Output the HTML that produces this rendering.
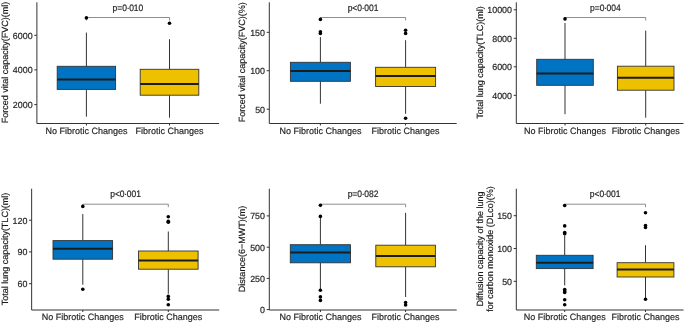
<!DOCTYPE html>
<html><head><meta charset="utf-8"><style>
html,body{margin:0;padding:0;background:#fff;}
body{width:685px;height:324px;overflow:hidden;}
svg{display:block;filter:blur(0.3px);}
text{font-family:"Liberation Sans",sans-serif;text-rendering:geometricPrecision;stroke-width:0.18px;}
.tk{font-size:8.9px;fill:#262626;stroke:#262626;}
.xl{font-size:9px;fill:#262626;stroke:#262626;}
.pv{font-size:8.5px;fill:#262626;stroke:#262626;}
.tt{font-size:9px;fill:#1a1a1a;stroke:#1a1a1a;}
</style></head><body>
<svg width="685" height="324" viewBox="0 0 685 324">
<rect width="685" height="324" fill="#fff"/>
<path d="M86.4 20.50 V17.5 H169.5 V20.50" fill="none" stroke="#7a7a7a" stroke-width="0.85"/>
<text transform="translate(127.95 10.85) scale(1 1.1)" text-anchor="middle" class="pv">p=0<tspan dx="-0.35">·</tspan><tspan dx="-0.35">010</tspan></text>
<line x1="86.4" y1="32.6" x2="86.4" y2="66.3" stroke="#333333" stroke-width="1.0"/>
<line x1="86.4" y1="89.4" x2="86.4" y2="116.7" stroke="#333333" stroke-width="1.0"/>
<rect x="57.20" y="66.3" width="58.40" height="23.10" fill="#0073C2" stroke="#333333" stroke-width="0.9"/>
<line x1="57.20" y1="79.4" x2="115.60" y2="79.4" stroke="#1c1c1c" stroke-width="2.0"/>
<circle cx="86.4" cy="17.9" r="1.8" fill="#000"/>
<line x1="169.5" y1="39.2" x2="169.5" y2="69.3" stroke="#333333" stroke-width="1.0"/>
<line x1="169.5" y1="95.2" x2="169.5" y2="117.7" stroke="#333333" stroke-width="1.0"/>
<rect x="140.20" y="69.3" width="58.60" height="25.90" fill="#EDC000" stroke="#333333" stroke-width="0.9"/>
<line x1="140.20" y1="84.0" x2="198.80" y2="84.0" stroke="#1c1c1c" stroke-width="2.0"/>
<circle cx="169.5" cy="23.3" r="1.8" fill="#000"/>
<path d="M36.9 2.3 V123.5 H219.1" fill="none" stroke="#333333" stroke-width="1.0" stroke-linejoin="round"/>
<line x1="34.30" y1="35.3" x2="36.9" y2="35.3" stroke="#333333" stroke-width="1.0"/>
<text transform="translate(32.60 38.65) scale(1 1.0)" text-anchor="end" class="tk">6000</text>
<line x1="34.30" y1="69.9" x2="36.9" y2="69.9" stroke="#333333" stroke-width="1.0"/>
<text transform="translate(32.60 73.25) scale(1 1.0)" text-anchor="end" class="tk">4000</text>
<line x1="34.30" y1="104.6" x2="36.9" y2="104.6" stroke="#333333" stroke-width="1.0"/>
<text transform="translate(32.60 107.95) scale(1 1.0)" text-anchor="end" class="tk">2000</text>
<line x1="86.4" y1="123.5" x2="86.4" y2="125.50" stroke="#333333" stroke-width="1.0"/>
<text transform="translate(86.4 133.55) scale(1 1.02)" text-anchor="middle" class="xl">No Fibrotic Changes</text>
<line x1="169.5" y1="123.5" x2="169.5" y2="125.50" stroke="#333333" stroke-width="1.0"/>
<text transform="translate(169.5 133.55) scale(1 1.02)" text-anchor="middle" class="xl">Fibrotic Changes</text>
<text transform="translate(7.9 62.6) rotate(-90)" text-anchor="middle" class="tt">Forced vital capacity(FVC)(ml)</text>
<path d="M320.4 20.50 V17.5 H405.6 V20.50" fill="none" stroke="#7a7a7a" stroke-width="0.85"/>
<text transform="translate(363.00 10.85) scale(1 1.1)" text-anchor="middle" class="pv">p&lt;0<tspan dx="-0.35">·</tspan><tspan dx="-0.35">001</tspan></text>
<line x1="320.4" y1="37.1" x2="320.4" y2="62.3" stroke="#333333" stroke-width="1.0"/>
<line x1="320.4" y1="81.3" x2="320.4" y2="103.7" stroke="#333333" stroke-width="1.0"/>
<rect x="290.40" y="62.3" width="60.00" height="19.00" fill="#0073C2" stroke="#333333" stroke-width="0.9"/>
<line x1="290.40" y1="70.9" x2="350.40" y2="70.9" stroke="#1c1c1c" stroke-width="2.0"/>
<circle cx="320.4" cy="19.4" r="1.8" fill="#000"/>
<circle cx="320.4" cy="31.8" r="1.8" fill="#000"/>
<circle cx="320.4" cy="33.5" r="1.8" fill="#000"/>
<line x1="405.6" y1="40.2" x2="405.6" y2="67.3" stroke="#333333" stroke-width="1.0"/>
<line x1="405.6" y1="86.5" x2="405.6" y2="113.8" stroke="#333333" stroke-width="1.0"/>
<rect x="375.60" y="67.3" width="60.00" height="19.20" fill="#EDC000" stroke="#333333" stroke-width="0.9"/>
<line x1="375.60" y1="75.9" x2="435.60" y2="75.9" stroke="#1c1c1c" stroke-width="2.0"/>
<circle cx="405.6" cy="30.3" r="1.8" fill="#000"/>
<circle cx="405.6" cy="33.4" r="1.8" fill="#000"/>
<circle cx="405.6" cy="118.3" r="1.8" fill="#000"/>
<path d="M269.3 2.3 V123.5 H456.7" fill="none" stroke="#333333" stroke-width="1.0" stroke-linejoin="round"/>
<line x1="266.70" y1="32.3" x2="269.3" y2="32.3" stroke="#333333" stroke-width="1.0"/>
<text transform="translate(265.00 35.65) scale(1 1.0)" text-anchor="end" class="tk">150</text>
<line x1="266.70" y1="70.7" x2="269.3" y2="70.7" stroke="#333333" stroke-width="1.0"/>
<text transform="translate(265.00 74.05) scale(1 1.0)" text-anchor="end" class="tk">100</text>
<line x1="266.70" y1="109.2" x2="269.3" y2="109.2" stroke="#333333" stroke-width="1.0"/>
<text transform="translate(265.00 112.55) scale(1 1.0)" text-anchor="end" class="tk">50</text>
<line x1="320.4" y1="123.5" x2="320.4" y2="125.50" stroke="#333333" stroke-width="1.0"/>
<text transform="translate(320.4 133.55) scale(1 1.02)" text-anchor="middle" class="xl">No Fibrotic Changes</text>
<line x1="405.6" y1="123.5" x2="405.6" y2="125.50" stroke="#333333" stroke-width="1.0"/>
<text transform="translate(405.6 133.55) scale(1 1.02)" text-anchor="middle" class="xl">Fibrotic Changes</text>
<text transform="translate(245.2 62.3) rotate(-90)" text-anchor="middle" class="tt">Forced vital capacity(FVC)(%)</text>
<path d="M565.0 20.50 V17.5 H645.7 V20.50" fill="none" stroke="#7a7a7a" stroke-width="0.85"/>
<text transform="translate(605.35 10.85) scale(1 1.1)" text-anchor="middle" class="pv">p=0<tspan dx="-0.35">·</tspan><tspan dx="-0.35">004</tspan></text>
<line x1="565.0" y1="23.0" x2="565.0" y2="59.3" stroke="#333333" stroke-width="1.0"/>
<line x1="565.0" y1="85.3" x2="565.0" y2="114.2" stroke="#333333" stroke-width="1.0"/>
<rect x="536.70" y="59.3" width="56.60" height="26.00" fill="#0073C2" stroke="#333333" stroke-width="0.9"/>
<line x1="536.70" y1="73.5" x2="593.30" y2="73.5" stroke="#1c1c1c" stroke-width="2.0"/>
<circle cx="565.0" cy="18.9" r="1.8" fill="#000"/>
<line x1="645.7" y1="30.6" x2="645.7" y2="66.2" stroke="#333333" stroke-width="1.0"/>
<line x1="645.7" y1="90.2" x2="645.7" y2="117.7" stroke="#333333" stroke-width="1.0"/>
<rect x="617.40" y="66.2" width="56.60" height="24.00" fill="#EDC000" stroke="#333333" stroke-width="0.9"/>
<line x1="617.40" y1="77.7" x2="674.00" y2="77.7" stroke="#1c1c1c" stroke-width="2.0"/>
<path d="M516.3 2.3 V123.5 H683.5" fill="none" stroke="#333333" stroke-width="1.0" stroke-linejoin="round"/>
<line x1="513.70" y1="9.8" x2="516.3" y2="9.8" stroke="#333333" stroke-width="1.0"/>
<text transform="translate(512.00 13.15) scale(1 1.0)" text-anchor="end" class="tk">10000</text>
<line x1="513.70" y1="38.3" x2="516.3" y2="38.3" stroke="#333333" stroke-width="1.0"/>
<text transform="translate(512.00 41.65) scale(1 1.0)" text-anchor="end" class="tk">8000</text>
<line x1="513.70" y1="66.8" x2="516.3" y2="66.8" stroke="#333333" stroke-width="1.0"/>
<text transform="translate(512.00 70.15) scale(1 1.0)" text-anchor="end" class="tk">6000</text>
<line x1="513.70" y1="95.3" x2="516.3" y2="95.3" stroke="#333333" stroke-width="1.0"/>
<text transform="translate(512.00 98.65) scale(1 1.0)" text-anchor="end" class="tk">4000</text>
<line x1="565.0" y1="123.5" x2="565.0" y2="125.50" stroke="#333333" stroke-width="1.0"/>
<text transform="translate(565.0 133.55) scale(1 1.02)" text-anchor="middle" class="xl">No Fibrotic Changes</text>
<line x1="645.7" y1="123.5" x2="645.7" y2="125.50" stroke="#333333" stroke-width="1.0"/>
<text transform="translate(645.7 133.55) scale(1 1.02)" text-anchor="middle" class="xl">Fibrotic Changes</text>
<text transform="translate(482.9 62.5) rotate(-90)" text-anchor="middle" class="tt">Total lung capacity(TLC)(ml)</text>
<path d="M82.8 207.20 V204.2 H168.3 V207.20" fill="none" stroke="#7a7a7a" stroke-width="0.85"/>
<text transform="translate(125.55 197.0) scale(1 1.1)" text-anchor="middle" class="pv">p&lt;0<tspan dx="-0.35">·</tspan><tspan dx="-0.35">001</tspan></text>
<line x1="82.8" y1="214.1" x2="82.8" y2="240.6" stroke="#333333" stroke-width="1.0"/>
<line x1="82.8" y1="259.2" x2="82.8" y2="284.7" stroke="#333333" stroke-width="1.0"/>
<rect x="53.00" y="240.6" width="59.60" height="18.60" fill="#0073C2" stroke="#333333" stroke-width="0.9"/>
<line x1="53.00" y1="248.8" x2="112.60" y2="248.8" stroke="#1c1c1c" stroke-width="2.0"/>
<circle cx="82.8" cy="206.4" r="1.8" fill="#000"/>
<circle cx="82.8" cy="289.2" r="1.8" fill="#000"/>
<line x1="168.3" y1="231.5" x2="168.3" y2="251.0" stroke="#333333" stroke-width="1.0"/>
<line x1="168.3" y1="269.2" x2="168.3" y2="293.8" stroke="#333333" stroke-width="1.0"/>
<rect x="138.50" y="251.0" width="59.60" height="18.20" fill="#EDC000" stroke="#333333" stroke-width="0.9"/>
<line x1="138.50" y1="260.6" x2="198.10" y2="260.6" stroke="#1c1c1c" stroke-width="2.0"/>
<circle cx="168.3" cy="216.7" r="1.8" fill="#000"/>
<circle cx="168.3" cy="221.3" r="1.8" fill="#000"/>
<circle cx="168.3" cy="222.3" r="1.8" fill="#000"/>
<circle cx="168.3" cy="296.4" r="1.8" fill="#000"/>
<circle cx="168.3" cy="299.2" r="1.8" fill="#000"/>
<circle cx="168.3" cy="304.7" r="1.8" fill="#000"/>
<path d="M31.65 188.7 V310.0 H219.2" fill="none" stroke="#333333" stroke-width="1.0" stroke-linejoin="round"/>
<line x1="29.05" y1="220.2" x2="31.65" y2="220.2" stroke="#333333" stroke-width="1.0"/>
<text transform="translate(27.35 223.55) scale(1 1.0)" text-anchor="end" class="tk">120</text>
<line x1="29.05" y1="251.9" x2="31.65" y2="251.9" stroke="#333333" stroke-width="1.0"/>
<text transform="translate(27.35 255.25) scale(1 1.0)" text-anchor="end" class="tk">90</text>
<line x1="29.05" y1="283.7" x2="31.65" y2="283.7" stroke="#333333" stroke-width="1.0"/>
<text transform="translate(27.35 287.05) scale(1 1.0)" text-anchor="end" class="tk">60</text>
<line x1="82.8" y1="310.0" x2="82.8" y2="312.00" stroke="#333333" stroke-width="1.0"/>
<text transform="translate(82.8 320.4) scale(1 1.02)" text-anchor="middle" class="xl">No Fibrotic Changes</text>
<line x1="168.3" y1="310.0" x2="168.3" y2="312.00" stroke="#333333" stroke-width="1.0"/>
<text transform="translate(168.3 320.4) scale(1 1.02)" text-anchor="middle" class="xl">Fibrotic Changes</text>
<text transform="translate(7.5 248.9) rotate(-90)" text-anchor="middle" class="tt">Total lung capacity(TLC)(ml)</text>
<path d="M320.4 207.20 V204.2 H405.6 V207.20" fill="none" stroke="#7a7a7a" stroke-width="0.85"/>
<text transform="translate(363.00 197.0) scale(1 1.1)" text-anchor="middle" class="pv">p=0<tspan dx="-0.35">·</tspan><tspan dx="-0.35">082</tspan></text>
<line x1="320.4" y1="216.4" x2="320.4" y2="244.7" stroke="#333333" stroke-width="1.0"/>
<line x1="320.4" y1="262.8" x2="320.4" y2="289.9" stroke="#333333" stroke-width="1.0"/>
<rect x="290.30" y="244.7" width="60.20" height="18.10" fill="#0073C2" stroke="#333333" stroke-width="0.9"/>
<line x1="290.30" y1="252.6" x2="350.50" y2="252.6" stroke="#1c1c1c" stroke-width="2.0"/>
<circle cx="320.4" cy="205.2" r="1.8" fill="#000"/>
<circle cx="320.4" cy="216.4" r="1.8" fill="#000"/>
<circle cx="320.4" cy="290.2" r="1.8" fill="#000"/>
<circle cx="320.4" cy="296.9" r="1.8" fill="#000"/>
<circle cx="320.4" cy="300.4" r="1.8" fill="#000"/>
<line x1="405.6" y1="212.9" x2="405.6" y2="245.2" stroke="#333333" stroke-width="1.0"/>
<line x1="405.6" y1="266.8" x2="405.6" y2="297.0" stroke="#333333" stroke-width="1.0"/>
<rect x="375.80" y="245.2" width="59.60" height="21.60" fill="#EDC000" stroke="#333333" stroke-width="0.9"/>
<line x1="375.80" y1="256.0" x2="435.40" y2="256.0" stroke="#1c1c1c" stroke-width="2.0"/>
<circle cx="405.6" cy="302.5" r="1.8" fill="#000"/>
<circle cx="405.6" cy="305.0" r="1.8" fill="#000"/>
<path d="M269.3 188.7 V310.0 H456.7" fill="none" stroke="#333333" stroke-width="1.0" stroke-linejoin="round"/>
<line x1="266.70" y1="215.9" x2="269.3" y2="215.9" stroke="#333333" stroke-width="1.0"/>
<text transform="translate(265.00 219.25) scale(1 1.0)" text-anchor="end" class="tk">750</text>
<line x1="266.70" y1="247.2" x2="269.3" y2="247.2" stroke="#333333" stroke-width="1.0"/>
<text transform="translate(265.00 250.55) scale(1 1.0)" text-anchor="end" class="tk">500</text>
<line x1="266.70" y1="278.4" x2="269.3" y2="278.4" stroke="#333333" stroke-width="1.0"/>
<text transform="translate(265.00 281.75) scale(1 1.0)" text-anchor="end" class="tk">250</text>
<line x1="266.70" y1="309.6" x2="269.3" y2="309.6" stroke="#333333" stroke-width="1.0"/>
<text transform="translate(265.00 312.95) scale(1 1.0)" text-anchor="end" class="tk">0</text>
<line x1="320.4" y1="310.0" x2="320.4" y2="312.00" stroke="#333333" stroke-width="1.0"/>
<text transform="translate(320.4 320.4) scale(1 1.02)" text-anchor="middle" class="xl">No Fibrotic Changes</text>
<line x1="405.6" y1="310.0" x2="405.6" y2="312.00" stroke="#333333" stroke-width="1.0"/>
<text transform="translate(405.6 320.4) scale(1 1.02)" text-anchor="middle" class="xl">Fibrotic Changes</text>
<text transform="translate(245.0 249.0) rotate(-90)" text-anchor="middle" class="tt">Distance(6−MWT)(m)</text>
<path d="M564.7 207.20 V204.2 H645.5 V207.20" fill="none" stroke="#7a7a7a" stroke-width="0.85"/>
<text transform="translate(605.10 197.0) scale(1 1.1)" text-anchor="middle" class="pv">p&lt;0<tspan dx="-0.35">·</tspan><tspan dx="-0.35">001</tspan></text>
<line x1="564.7" y1="235.5" x2="564.7" y2="255.3" stroke="#333333" stroke-width="1.0"/>
<line x1="564.7" y1="268.6" x2="564.7" y2="285.4" stroke="#333333" stroke-width="1.0"/>
<rect x="536.30" y="255.3" width="56.80" height="13.30" fill="#0073C2" stroke="#333333" stroke-width="0.9"/>
<line x1="536.30" y1="262.7" x2="593.10" y2="262.7" stroke="#1c1c1c" stroke-width="2.0"/>
<circle cx="564.7" cy="205.5" r="1.8" fill="#000"/>
<circle cx="564.7" cy="225.9" r="1.8" fill="#000"/>
<circle cx="564.7" cy="232.6" r="1.8" fill="#000"/>
<circle cx="564.7" cy="233.8" r="1.8" fill="#000"/>
<circle cx="564.7" cy="289.6" r="1.8" fill="#000"/>
<circle cx="564.7" cy="291.0" r="1.8" fill="#000"/>
<circle cx="564.7" cy="292.4" r="1.8" fill="#000"/>
<circle cx="564.7" cy="299.8" r="1.8" fill="#000"/>
<circle cx="564.7" cy="304.7" r="1.8" fill="#000"/>
<line x1="645.5" y1="245.2" x2="645.5" y2="262.7" stroke="#333333" stroke-width="1.0"/>
<line x1="645.5" y1="277.0" x2="645.5" y2="299.2" stroke="#333333" stroke-width="1.0"/>
<rect x="617.10" y="262.7" width="56.80" height="14.30" fill="#EDC000" stroke="#333333" stroke-width="0.9"/>
<line x1="617.10" y1="269.5" x2="673.90" y2="269.5" stroke="#1c1c1c" stroke-width="2.0"/>
<circle cx="645.5" cy="212.7" r="1.8" fill="#000"/>
<circle cx="645.5" cy="225.5" r="1.8" fill="#000"/>
<circle cx="645.5" cy="227.5" r="1.8" fill="#000"/>
<circle cx="645.5" cy="299.2" r="1.8" fill="#000"/>
<path d="M516.3 188.7 V310.0 H683.5" fill="none" stroke="#333333" stroke-width="1.0" stroke-linejoin="round"/>
<line x1="513.70" y1="215.7" x2="516.3" y2="215.7" stroke="#333333" stroke-width="1.0"/>
<text transform="translate(512.00 219.05) scale(1 1.0)" text-anchor="end" class="tk">150</text>
<line x1="513.70" y1="248.5" x2="516.3" y2="248.5" stroke="#333333" stroke-width="1.0"/>
<text transform="translate(512.00 251.85) scale(1 1.0)" text-anchor="end" class="tk">100</text>
<line x1="513.70" y1="281.3" x2="516.3" y2="281.3" stroke="#333333" stroke-width="1.0"/>
<text transform="translate(512.00 284.65) scale(1 1.0)" text-anchor="end" class="tk">50</text>
<line x1="564.7" y1="310.0" x2="564.7" y2="312.00" stroke="#333333" stroke-width="1.0"/>
<text transform="translate(564.7 320.4) scale(1 1.02)" text-anchor="middle" class="xl">No Fibrotic Changes</text>
<line x1="645.5" y1="310.0" x2="645.5" y2="312.00" stroke="#333333" stroke-width="1.0"/>
<text transform="translate(645.5 320.4) scale(1 1.02)" text-anchor="middle" class="xl">Fibrotic Changes</text>
<text transform="translate(482.7 249.0) rotate(-90)" text-anchor="middle" class="tt">Diffusion capacity of the lung</text>
<text transform="translate(493.1 249.0) rotate(-90)" text-anchor="middle" class="tt">for carbon monoxide (DLco)(%)</text>
</svg>
</body></html>
